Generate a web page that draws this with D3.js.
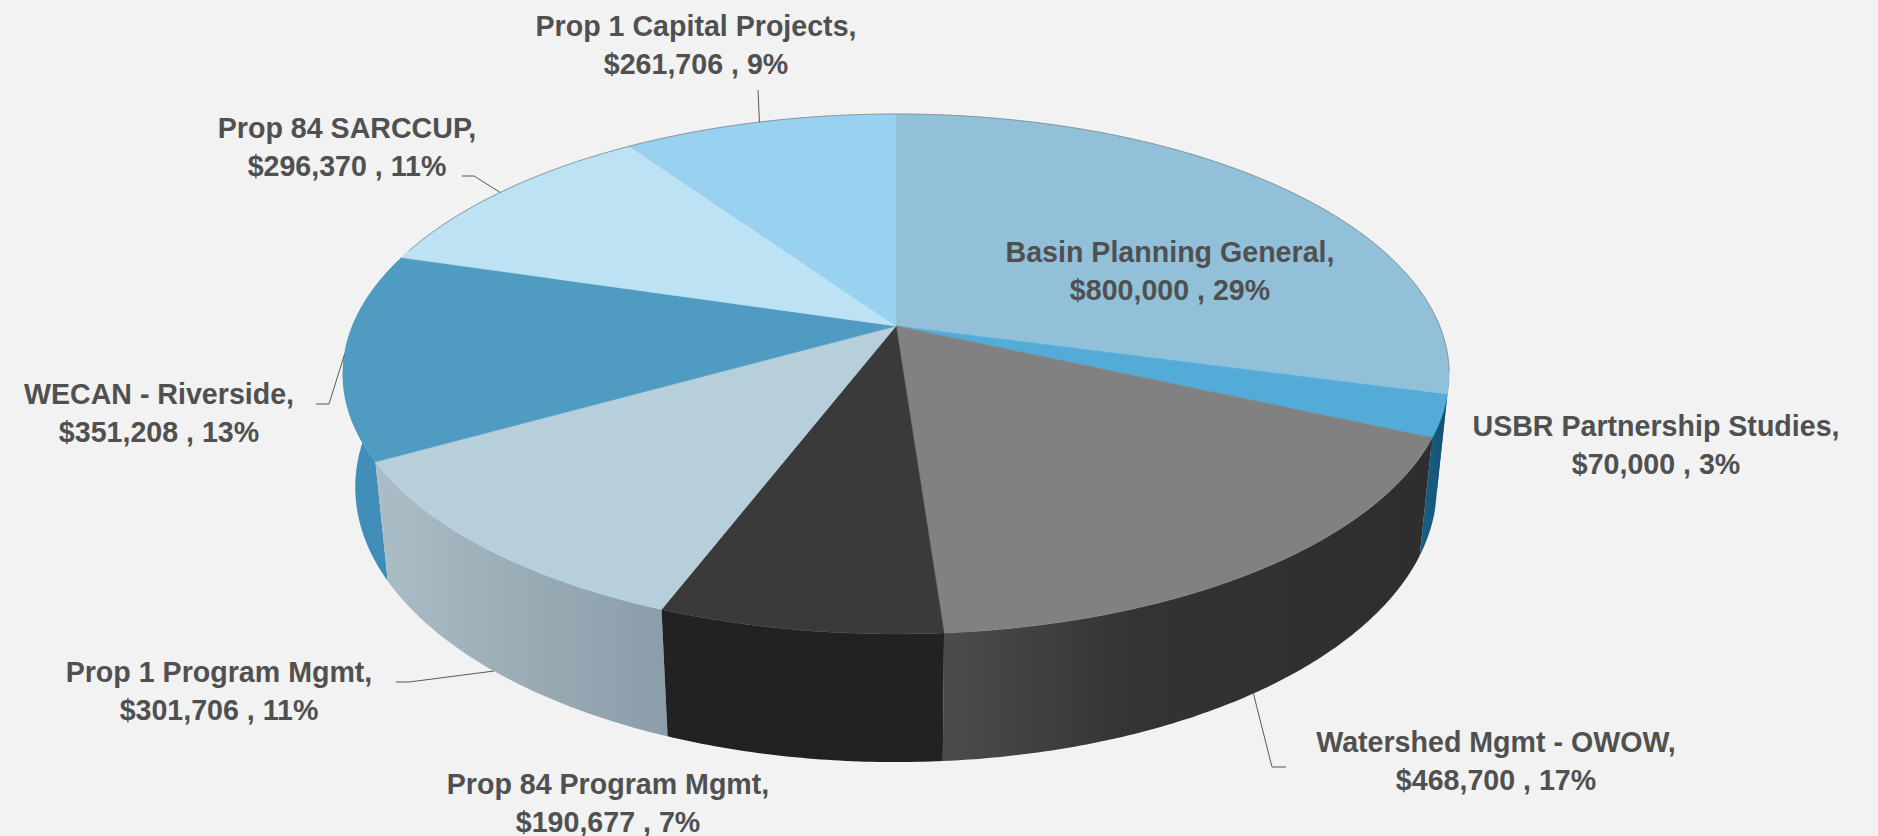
<!DOCTYPE html>
<html>
<head>
<meta charset="utf-8">
<script src="https://cdn.jsdelivr.net/npm/d3@7"></script>
<style>
  html, body { margin: 0; padding: 0; background: #f2f2f2; overflow: hidden; }
  text { font-family: "Liberation Sans", Arial, sans-serif; font-weight: 700; font-size: 28.6px; fill: #505050; text-anchor: middle; }
</style>
</head>
<body>
<div class="pieChart"></div>
<script>
// data, clockwise from 12 o'clock
const categories = ["Basin Planning General", "USBR Partnership Studies", "Watershed Mgmt - OWOW", "Prop 84 Program Mgmt", "Prop 1 Program Mgmt", "WECAN - Riverside", "Prop 84 SARCCUP", "Prop 1 Capital Projects"];
const amounts = [800000, 70000, 468700, 190677, 301706, 351208, 296370, 261706];
const percents = ["29%", "3%", "17%", "7%", "11%", "13%", "11%", "9%"];

const topColors = ["#91c0d8", "#53acd8", "#818181", "#3a3a3a", "#b7cfdb", "#4f9bc1", "#bde2f4", "#99d1f0"];
const sideColors = [
  ["#1f6d96", "#1f6d96", "#1a5f85"],
  ["#1a5f85", "#175a7e", "#14506f"],
  ["#4c4c4c", "#333333", "#2e2e2e"],
  ["#222222", "#212121", "#222222"],
  ["#abbec8", "#9db0ba", "#8a9da8"],
  ["#4193bf", "#3f8db8", "#3f8db8"],
  ["#4f9bc1", "#4f9bc1", "#4f9bc1"],
  ["#4f9bc1", "#4f9bc1", "#4f9bc1"]
];

// label placement: centre x, first baseline, optional leader elbow
const labelPos = [
  { x: 1170, y: 262 },
  { x: 1656, y: 436 },
  { x: 1496, y: 752, leader: [[1286, 767], [1272, 767]], h: 1 },
  { x: 608, y: 794 },
  { x: 219, y: 682, leader: [[396, 682], [409, 682]], h: 1 },
  { x: 159, y: 404, leader: [[316, 404], [329, 404]], h: 0 },
  { x: 347, y: 138, leader: [[462, 176], [474, 176]], h: 0 },
  { x: 696, y: 36, leader: [[758, 90]], h: 0 }
];

const width = 1878;
const height = 836;

// perspective pie: u,v on the unit circle, h = 0 top face, h = 1 bottom face
const cx = 896, cy = 326;
const A = 543.6, B = 251.1, k = 0.1846, m = 0.02206, D = 114.1;

function project(angle, r, h) {
  const u = r * Math.sin(angle);
  const v = -r * Math.cos(angle);
  const w = 1 - k * v + m * h;
  return [cx + A * u / w, cy + (B * v + D * h) / w];
}

const pie = d3.pie().sort(null).value(function(d) { return d; });
const slices = pie(amounts);
const line = d3.line();
const color = d3.scaleOrdinal().domain(categories).range(topColors);

function arcPoints(d, h) {
  const n = Math.max(4, Math.ceil((d.endAngle - d.startAngle) / 0.01));
  return d3.range(n + 1).map(function(i) {
    return project(d.startAngle + (d.endAngle - d.startAngle) * i / n, 1, h);
  });
}

const svg = d3.select(".pieChart").append("svg")
  .attr("width", width)
  .attr("height", height)
  .style("display", "block");

const defs = svg.append("defs");
sideColors.forEach(function(stops, i) {
  const g = defs.append("linearGradient").attr("id", "side" + i);
  g.append("stop").attr("offset", "0%").attr("stop-color", stops[0]);
  g.append("stop").attr("offset", "40%").attr("stop-color", stops[1]);
  g.append("stop").attr("offset", "100%").attr("stop-color", stops[2]);
});

// walls, back to front
const midAngle = function(d) { return (d.startAngle + d.endAngle) / 2; };
const order = d3.range(slices.length).sort(function(a, b) {
  return Math.cos(midAngle(slices[a])) > Math.cos(midAngle(slices[b])) ? -1 : 1;
});

svg.append("g").selectAll("path")
  .data(order)
  .enter()
  .append("path")
  .attr("d", function(i) {
    return line(arcPoints(slices[i], 0).concat(arcPoints(slices[i], 1).reverse())) + "Z";
  })
  .attr("fill", function(i) { return "url(#side" + i + ")"; });

// top face
svg.append("g").selectAll("path")
  .data(slices)
  .enter()
  .append("path")
  .attr("d", function(d) { return line([[cx, cy]].concat(arcPoints(d, 0))) + "Z"; })
  .attr("fill", function(d, i) { return color(categories[i]); })
  .attr("stroke", function(d, i) { return color(categories[i]); })
  .attr("stroke-width", 0.6);

// thin rim along the far edge
const rimStart = -1.25, rimEnd = 1.75;
svg.append("path")
  .attr("d", line(arcPoints({ startAngle: rimStart, endAngle: rimEnd }, 0)))
  .attr("fill", "none")
  .attr("stroke", "#8c9aa2")
  .attr("stroke-width", 1);

// leaders
svg.append("g").selectAll("path")
  .data(slices.filter(function(d, i) { return labelPos[i].leader; }))
  .enter()
  .append("path")
  .attr("d", function(d) {
    const p = labelPos[d.index];
    return line(p.leader.concat([project(midAngle(d), 1, p.h)]));
  })
  .attr("fill", "none")
  .attr("stroke", "#595959")
  .attr("stroke-width", 1);

// labels
const labels = svg.append("g").selectAll("g")
  .data(slices)
  .enter()
  .append("g");

labels.append("text")
  .attr("x", function(d, i) { return labelPos[i].x; })
  .attr("y", function(d, i) { return labelPos[i].y; })
  .text(function(d, i) { return categories[i] + ","; });

labels.append("text")
  .attr("x", function(d, i) { return labelPos[i].x; })
  .attr("y", function(d, i) { return labelPos[i].y + 37.5; })
  .text(function(d, i) { return "$" + amounts[i].toLocaleString("en-US") + " , " + percents[i]; });
</script>
</body>
</html>
